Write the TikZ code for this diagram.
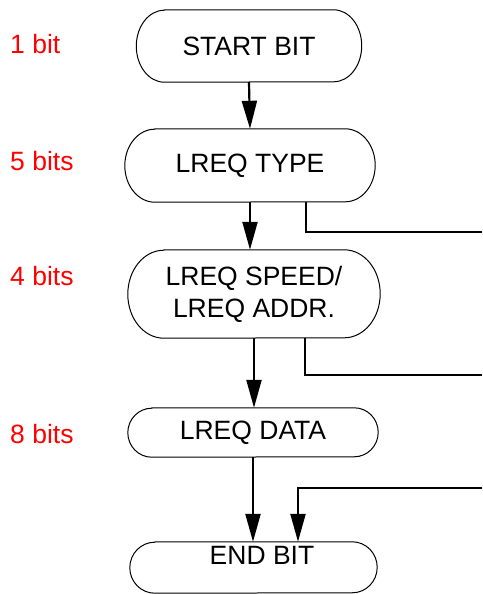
\documentclass[tikz,border=0pt]{standalone}
\usepackage{fontspec}
\setmainfont{Liberation Sans}
\usetikzlibrary{arrows.meta}
\begin{document}
\begin{tikzpicture}[x=1pt,y=-1pt,
  box/.style={inner sep=0pt, align=center,
    font=\fontsize{26.5}{32}\selectfont},
  outline/.style={draw, line width=1pt},
  lbl/.style={text=red, anchor=west, inner sep=0pt, font=\fontsize{26.5}{30}\selectfont},
  txt/.style={inner sep=0pt, font=\fontsize{26.5}{30}\selectfont},
  arr/.style={line width=2.2pt, -{Triangle[length=28pt,width=15pt]}},
  wire/.style={line width=2pt}]
\useasboundingbox (0,0) rectangle (482,594);
\newcommand\capsule[3]{%
  \draw[outline] ([xshift=#2]#1.north west) -- ([xshift=-#2]#1.north east)
    arc[start angle=90, end angle=-90, x radius=#2, y radius=#3]
    -- ([xshift=#2]#1.south west)
    arc[start angle=270, end angle=90, x radius=#2, y radius=#3] -- cycle;}
\node[box, minimum width=225pt, minimum height=72pt] (start) at (249,46) {START BIT};
\node[box, minimum width=250pt, minimum height=73pt] (type) at (250,165.5) {LREQ TYPE};
\node[box, minimum width=252pt, minimum height=88pt] (speed) at (254,294) {LREQ SPEED/\\LREQ ADDR.};
\node[box, minimum width=250pt, minimum height=49pt] (data) at (253,432.5) {LREQ DATA};
\node[box, minimum width=247pt, minimum height=51pt] (endb) at (253.5,567.5) {};
\capsule{start}{28pt}{36pt}
\capsule{type}{30pt}{36.5pt}
\capsule{speed}{36pt}{44pt}
\capsule{data}{24pt}{24.5pt}
\capsule{endb}{25pt}{25.5pt}
\node[txt] (endt) at (262,555) {END BIT};
\node[lbl] (l1) at (10,44) {1 bit};
\node[lbl] (l2) at (10,161) {5 bits};
\node[lbl] (l3) at (10,276) {4 bits};
\node[lbl] (l4) at (10,434) {8 bits};
\coordinate (e1) at (482,232);
\coordinate (e2) at (482,375);
\coordinate (e3) at (482,488);
\draw[arr] (start.south) -- (type.north);
\draw[arr] (type.south) -- (speed.north -| type.south);
\draw[arr] (speed.south) -- (data.north -| speed.south);
\draw[arr] (data.south) -- (endb.north -| data.south);
\draw[wire] ([xshift=56pt]type.south) |- (e1);
\draw[wire] ([xshift=51pt]speed.south) |- (e2);
\draw[arr] (e3) -| ([xshift=44.5pt]endb.north);
\end{tikzpicture}
\end{document}
